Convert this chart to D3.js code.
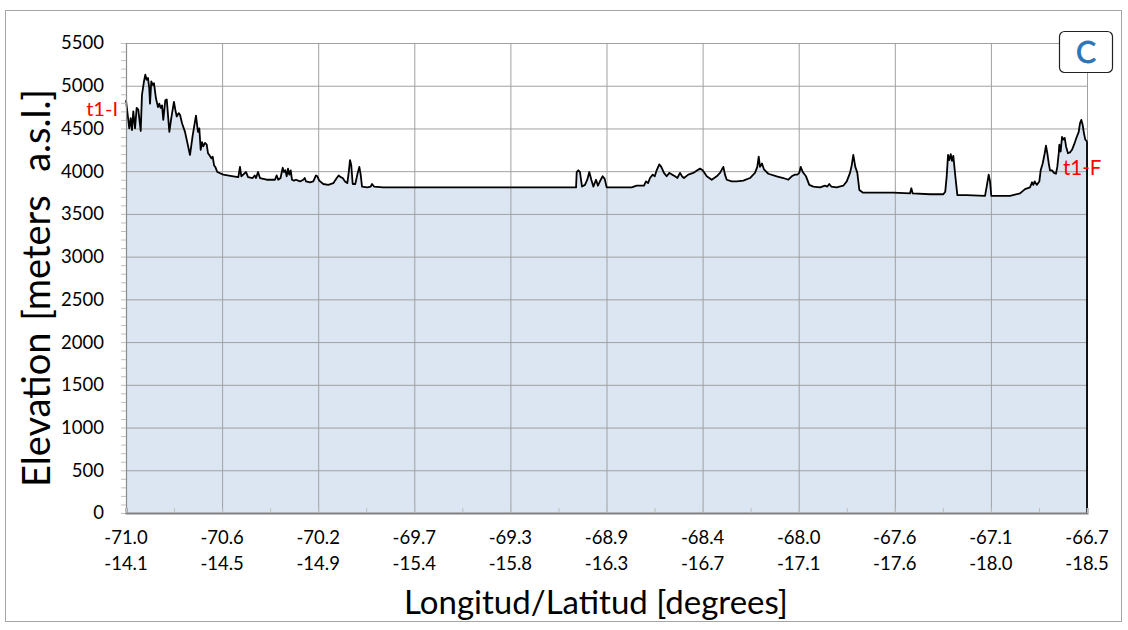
<!DOCTYPE html>
<html><head><meta charset="utf-8">
<script src="https://cdn.jsdelivr.net/npm/d3@7"></script>
<style>body{margin:0;background:#fff;}svg{display:block;font-family:Lato,"Open Sans",sans-serif;}</style>
</head><body>
<svg id="chart" width="1128" height="630"></svg>
<script>
// Position along profile (in units of tick intervals, 0 = -71.0/-14.1, 10 = -66.7/-18.5)
const profilePos = [0.000,0.034,0.049,0.062,0.076,0.094,0.111,0.128,0.153,0.166,0.187,0.201,0.215,0.229,0.242,0.250,0.263,0.278,0.291,0.312,0.333,0.347,0.361,0.375,0.388,0.409,0.424,0.451,0.471,0.499,0.513,0.528,0.548,0.562,0.583,0.614,0.666,0.694,0.728,0.749,0.763,0.777,0.791,0.804,0.822,0.840,0.853,0.867,0.888,0.902,0.916,0.929,0.950,1.012,1.117,1.169,1.186,1.200,1.249,1.270,1.318,1.339,1.353,1.374,1.394,1.464,1.498,1.550,1.568,1.584,1.608,1.631,1.644,1.658,1.672,1.686,1.699,1.714,1.727,1.748,1.769,1.811,1.845,1.860,1.873,1.915,1.949,1.977,1.991,2.011,2.053,2.105,2.157,2.193,2.213,2.234,2.255,2.279,2.303,2.317,2.331,2.344,2.359,2.386,2.407,2.428,2.442,2.456,2.511,2.546,2.560,2.581,2.677,3.000,3.500,4.000,4.500,4.683,4.690,4.707,4.724,4.745,4.776,4.800,4.821,4.842,4.863,4.891,4.911,4.940,4.960,4.981,5.002,5.262,5.314,5.390,5.411,5.432,5.453,5.481,5.502,5.522,5.549,5.570,5.598,5.626,5.654,5.682,5.713,5.737,5.765,5.786,5.806,5.851,5.903,5.945,5.973,6.001,6.043,6.095,6.147,6.181,6.216,6.233,6.251,6.303,6.355,6.424,6.493,6.545,6.569,6.584,6.597,6.618,6.639,6.684,6.771,6.840,6.892,6.927,6.961,6.985,7.006,7.021,7.042,7.076,7.110,7.152,7.222,7.274,7.298,7.318,7.339,7.395,7.464,7.500,7.534,7.552,7.568,7.589,7.610,7.631,7.666,7.812,7.985,8.158,8.172,8.186,8.366,8.505,8.525,8.540,8.554,8.567,8.582,8.595,8.609,8.630,8.651,8.748,8.939,8.956,8.977,8.991,9.004,9.095,9.199,9.303,9.355,9.407,9.428,9.441,9.456,9.477,9.504,9.518,9.539,9.560,9.573,9.587,9.602,9.615,9.636,9.657,9.677,9.691,9.706,9.712,9.726,9.740,9.753,9.768,9.782,9.802,9.823,9.844,9.865,9.893,9.914,9.927,9.941,9.955,9.969,9.982,10.000];
// Elevation (m a.s.l.)
const profileElev = [4830,4500,4620,4480,4700,4500,4740,4720,4470,4890,5050,5130,5070,5090,4970,4790,5050,5010,5030,4850,4750,4790,4740,4770,4600,4830,4840,4460,4620,4810,4720,4640,4680,4660,4560,4460,4190,4420,4650,4460,4500,4250,4340,4290,4330,4310,4210,4190,4150,4170,4070,4050,3990,3960,3940,3930,4050,3940,3990,3930,3920,3950,3920,3990,3920,3900,3900,3900,3950,3900,3920,4040,3990,4010,3940,4030,3960,4010,3900,3890,3900,3880,3900,3920,3880,3870,3880,3950,3940,3890,3850,3840,3860,3920,3950,3930,3920,3880,3860,3980,4130,4070,3850,3850,3960,4050,3960,3820,3810,3820,3850,3820,3810,3810,3810,3810,3810,3810,3990,4010,3990,3820,3840,3900,3990,3900,3820,3900,3830,3900,3940,3910,3810,3810,3830,3830,3880,3860,3920,3960,3940,4010,4080,4050,3980,3940,3980,3960,3940,3920,3980,3940,3920,3960,3980,4010,4030,4010,3940,3900,3940,3980,4050,3960,3900,3880,3880,3890,3920,3980,4050,4170,4050,4090,4020,3970,3940,3920,3900,3940,3960,3960,3980,4050,3990,3940,3840,3820,3810,3830,3820,3850,3820,3810,3830,3880,3980,4070,4190,4050,3980,3780,3750,3750,3750,3740,3800,3740,3730,3730,3760,3940,4190,4130,4200,4120,4180,3940,3720,3720,3710,3820,3960,3880,3710,3710,3710,3740,3790,3810,3870,3840,3880,3840,3880,4010,4090,4210,4300,4210,4090,4010,4010,3980,3970,4050,4210,4310,4230,4400,4370,4390,4290,4210,4220,4250,4310,4400,4460,4560,4600,4540,4440,4370,4350];
const lonLabels = ["-71.0","-70.6","-70.2","-69.7","-69.3","-68.9","-68.4","-68.0","-67.6","-67.1","-66.7"];
const latLabels = ["-14.1","-14.5","-14.9","-15.4","-15.8","-16.3","-16.7","-17.1","-17.6","-18.0","-18.5"];
const yTicks = [0,500,1000,1500,2000,2500,3000,3500,4000,4500,5000,5500];
const yTitle = "Elevation [meters  a.s.l.]";
const xTitle = "Longitud/Latitud [degrees]";
const startLabel = "t1-I", endLabel = "t1-F", panelLabel = "C";

const svg = d3.select("#chart");
const L = 126, R = 1087, T = 43, B = 513;
const x = d3.scaleLinear().domain([0, 10]).range([L, R]);
const y = d3.scaleLinear().domain([0, 5500]).range([B, T]);

// outer frame
svg.append("rect").attr("x", 5.5).attr("y", 10.5).attr("width", 1116).attr("height", 611)
  .attr("fill", "#fff").attr("stroke", "#a6a6a6").attr("stroke-width", 1);

const data = profilePos.map((p, i) => ({p, e: profileElev[i]}));

// area fill
svg.append("path").datum(data)
  .attr("d", d3.area().x(d => x(d.p)).y0(y(0)).y1(d => y(d.e)))
  .attr("fill", "#dce6f2");

// gridlines
svg.append("g").attr("transform", `translate(0,${B})`)
  .call(d3.axisBottom(x).tickValues(d3.range(0, 11)).tickSize(-(B - T)).tickFormat(""))
  .call(g => g.select(".domain").remove())
  .selectAll("line").attr("stroke", "#a0a0a0").attr("stroke-width", 1);
svg.append("g").attr("transform", `translate(${L},0)`)
  .call(d3.axisLeft(y).tickValues(yTicks.slice(1)).tickSize(-(R - L)).tickFormat(""))
  .call(g => g.select(".domain").remove())
  .selectAll("line").attr("stroke", "#a0a0a0").attr("stroke-width", 1);

// profile line
svg.append("path").datum(data)
  .attr("d", d3.line().x(d => x(d.p)).y(d => y(d.e)))
  .attr("fill", "none").attr("stroke", "#000").attr("stroke-width", 1.8).attr("stroke-linejoin", "round");
// right-end drop
const last = data[data.length - 1];
svg.append("line").attr("x1", x(last.p)).attr("x2", x(last.p)).attr("y1", y(last.e)).attr("y2", y(0))
  .attr("stroke", "#000").attr("stroke-width", 1.8);

// y axis with minor ticks
svg.append("g").attr("transform", `translate(${L},0)`)
  .call(d3.axisLeft(y).tickValues(d3.range(0, 5501, 100)).tickSize(5).tickFormat(""))
  .call(g => g.select(".domain").attr("stroke", "#8c8c8c").attr("stroke-width", 1.2))
  .selectAll("line").attr("stroke", "#bfbfbf");
svg.append("g").attr("transform", `translate(${L},0)`)
  .call(d3.axisLeft(y).tickValues(yTicks).tickSize(0).tickPadding(22).tickFormat(d3.format("d")))
  .call(g => g.select(".domain").remove())
  .selectAll("text").attr("font-size", 18.5).attr("fill", "#000").attr("font-family", "Lato, sans-serif");

// x axis with minor ticks
svg.append("g").attr("transform", `translate(0,${B})`)
  .call(d3.axisBottom(x).tickValues(d3.range(0, 10.01, 0.5)).tickSize(-5).tickFormat(""))
  .call(g => g.select(".domain").attr("stroke", "#808080").attr("stroke-width", 2))
  .selectAll("line").attr("stroke", "#bfbfbf");
const xl = svg.append("g");
xl.selectAll("text.lon").data(lonLabels).join("text").attr("class", "lon")
  .attr("x", (d, i) => x(i)).attr("y", 544).attr("text-anchor", "middle")
  .attr("font-size", 18.5).text(d => d);
xl.selectAll("text.lat").data(latLabels).join("text").attr("class", "lat")
  .attr("x", (d, i) => x(i)).attr("y", 570).attr("text-anchor", "middle")
  .attr("font-size", 18.5).text(d => d);

// titles
svg.append("text").attr("transform", `translate(50,288) rotate(-90)`)
  .attr("text-anchor", "middle").attr("font-size", 38).attr("word-spacing", 2).attr("xml:space", "preserve")
  .style("white-space", "pre").text(yTitle);
svg.append("text").attr("x", 596).attr("y", 614).attr("text-anchor", "middle")
  .attr("font-size", 33).text(xTitle);

// endpoint labels
svg.append("text").attr("x", 118).attr("y", 116).attr("text-anchor", "end")
  .attr("font-size", 20).attr("fill", "#ff0000").text(startLabel);
svg.append("text").attr("x", 1063).attr("y", 175).attr("text-anchor", "start")
  .attr("font-size", 20.5).attr("fill", "#ff0000").text(endLabel);

// panel label box
svg.append("rect").attr("x", 1059.5).attr("y", 31.5).attr("width", 53).attr("height", 41).attr("rx", 5)
  .attr("fill", "#fff").attr("stroke", "#222").attr("stroke-width", 1.2);
svg.append("text").attr("x", 1086).attr("y", 63).attr("text-anchor", "middle")
  .attr("font-size", 30).attr("fill", "#2e75b6").attr("stroke", "#2e75b6").attr("stroke-width", 0.8).text(panelLabel);
</script>
</body></html>
